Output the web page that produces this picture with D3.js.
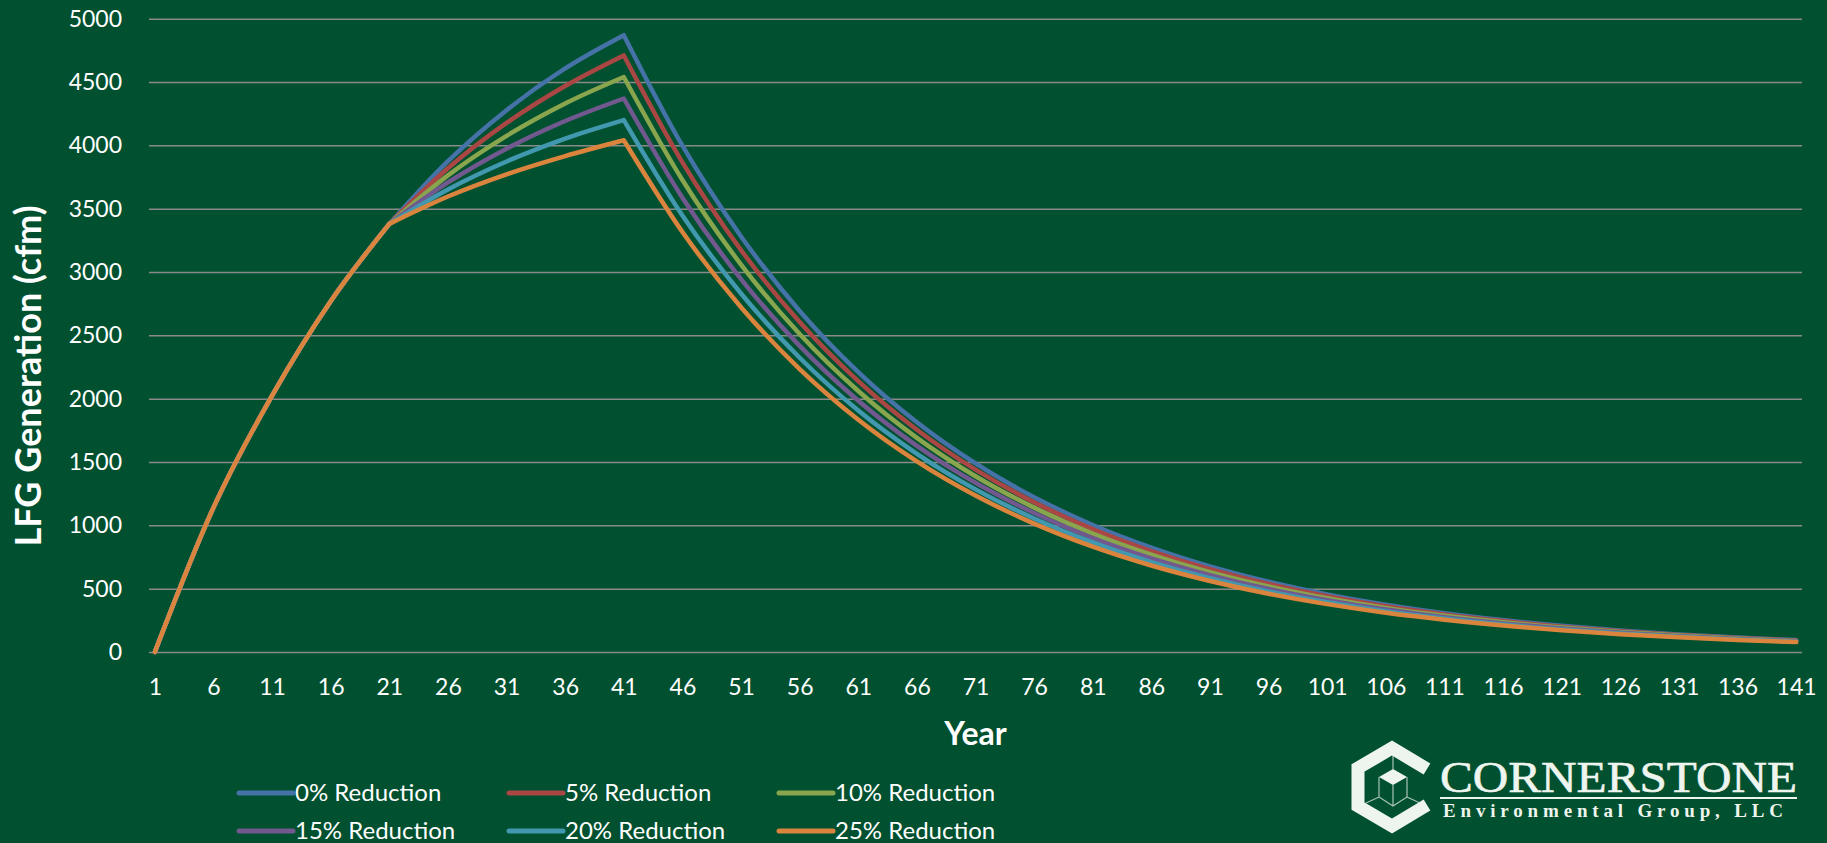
<!DOCTYPE html>
<html>
<head>
<meta charset="utf-8">
<script src="https://cdn.jsdelivr.net/npm/d3@7"></script>
<style>
    html, body { margin: 0; padding: 0; background: #01502f; }
    svg { display: block; }
    text { font-family: Lato, 'Open Sans', sans-serif; fill: #ffffff; }
</style>
</head>
<body>
<div id="chart"></div>
<script>
// series
const seriesNames = ['0% Reduction', '5% Reduction', '10% Reduction', '15% Reduction', '20% Reduction', '25% Reduction'];
const seriesColors = ['#4572a7', '#aa4643', '#89a54e', '#71588f', '#4198af', '#db843d'];

// years 1-21 are the same for every scenario
const rampYears = [1, 6, 11, 16, 21];
const rampValues = [0, 1140, 2025, 2770, 3380];

// years 21-41, one row per scenario
const riseYears = [21, 26, 31, 36, 41];
const riseValues = [
    [3380, 3875, 4278, 4608, 4870],
    [3380, 3819, 4177, 4469, 4710],
    [3380, 3763, 4075, 4331, 4540],
    [3380, 3707, 3974, 4192, 4370],
    [3380, 3652, 3873, 4054, 4200],
    [3380, 3596, 3771, 3915, 4040]
];

// years 41-141 after closure
const decayYears = [41, 46, 51, 56, 61, 66, 71, 76, 81, 86, 91, 96, 101, 106, 111, 116, 121, 126, 131, 136, 141];
const decayValues = [
    [4870, 3997, 3281, 2693, 2210, 1814, 1489, 1222, 1003, 824, 676, 555, 455, 374, 307, 252, 207, 170, 139, 114, 94],
    [4710, 3866, 3173, 2605, 2138, 1755, 1440, 1182, 970, 796, 654, 537, 440, 361, 297, 244, 200, 164, 135, 111, 91],
    [4540, 3726, 3059, 2511, 2061, 1691, 1388, 1140, 935, 768, 630, 517, 424, 348, 286, 235, 193, 158, 130, 107, 87],
    [4370, 3587, 2944, 2417, 1984, 1628, 1336, 1097, 900, 739, 607, 498, 409, 335, 275, 226, 185, 152, 125, 103, 84],
    [4200, 3447, 2830, 2323, 1906, 1565, 1284, 1054, 865, 710, 583, 478, 393, 322, 265, 217, 178, 146, 120, 99, 81],
    [4040, 3316, 2722, 2234, 1834, 1505, 1235, 1014, 832, 683, 561, 460, 378, 310, 255, 209, 171, 141, 116, 95, 78]
];

const xTicks = [1, 6, 11, 16, 21, 26, 31, 36, 41, 46, 51, 56, 61, 66, 71, 76, 81, 86, 91, 96, 101, 106, 111, 116, 121, 126, 131, 136, 141];
const yTicks = [0, 500, 1000, 1500, 2000, 2500, 3000, 3500, 4000, 4500, 5000];

const width = 1827;
const height = 843;
const plotLeft = 149;
const plotRight = 1802;
const plotTop = 18.7;
const plotBottom = 652;

const svg = d3.select('#chart')
    .append('svg')
    .attr('width', width)
    .attr('height', height);

svg.append('rect')
    .attr('width', width)
    .attr('height', height)
    .attr('fill', '#01502f');

const x = d3.scaleLinear()
    .domain([0.5, 141.5])
    .range([plotLeft, plotRight]);

const y = d3.scaleLinear()
    .domain([0, 5000])
    .range([plotBottom, plotTop]);

// gridlines
const grid = svg.append('g')
    .attr('transform', `translate(${plotLeft},0)`)
    .call(d3.axisLeft(y).tickValues(yTicks).tickSize(-(plotRight - plotLeft)).tickFormat(''));
grid.select('.domain').remove();
grid.selectAll('line')
    .attr('stroke', '#8a8a8a')
    .attr('stroke-width', 1.5);

// y labels
const yAxis = svg.append('g')
    .attr('transform', `translate(${plotLeft},0)`)
    .call(d3.axisLeft(y).tickValues(yTicks).tickSize(0).tickPadding(27).tickFormat(d3.format('d')));
yAxis.select('.domain').remove();
yAxis.selectAll('text').style('font-size', '23px');

// x labels
const xAxis = svg.append('g')
    .attr('transform', `translate(0,${plotBottom})`)
    .call(d3.axisBottom(x).tickValues(xTicks).tickSize(0).tickPadding(27));
xAxis.select('.domain').remove();
xAxis.selectAll('text').style('font-size', '23px');

// axis titles
svg.append('text')
    .attr('x', (plotLeft + plotRight) / 2)
    .attr('y', 745)
    .attr('text-anchor', 'middle')
    .style('font-size', '32px')
    .style('font-weight', 'bold')
    .text('Year');

svg.append('text')
    .attr('transform', 'translate(41,376) rotate(-90)')
    .attr('text-anchor', 'middle')
    .style('font-size', '36px')
    .style('font-weight', 'bold')
    .text('LFG Generation (cfm)');

// lines
const line = d3.line()
    .x(d => x(d.year))
    .y(d => y(d.value))
    .curve(d3.curveMonotoneX);

function segment(years, values) {
    return years.map((year, i) => ({ year: year, value: values[i] }));
}

// join the three pieces into one path so the corners at 21 and 41 stay sharp
function seriesPath(i) {
    const parts = [
        line(segment(rampYears, rampValues)),
        line(segment(riseYears, riseValues[i])),
        line(segment(decayYears, decayValues[i]))
    ];
    return parts[0] + parts.slice(1).map(p => p.replace(/^M[^C]*/, '')).join('');
}

svg.append('g')
    .selectAll('path')
    .data(seriesNames)
    .join('path')
    .attr('d', (d, i) => seriesPath(i))
    .attr('fill', 'none')
    .attr('stroke', (d, i) => seriesColors[i])
    .attr('stroke-width', 4.5)
    .attr('stroke-linejoin', 'round')
    .attr('stroke-linecap', 'round');

// legend
const legend = svg.append('g')
    .selectAll('g')
    .data(seriesNames)
    .join('g')
    .attr('transform', (d, i) => `translate(${239 + (i % 3) * 270},${i < 3 ? 793 : 831})`);

legend.append('line')
    .attr('x1', 0)
    .attr('x2', 54)
    .attr('stroke', (d, i) => seriesColors[i])
    .attr('stroke-width', 5)
    .attr('stroke-linecap', 'round');

legend.append('text')
    .attr('x', 56)
    .attr('dy', '0.35em')
    .style('font-size', '24px')
    .text(d => d);

// logo
const logoColor = '#eef4ee';
const logo = svg.append('g');

logo.append('path')
    .attr('d', 'M1427,769 L1392,748 L1358,768 L1358,806 L1392,826 L1427,805')
    .attr('fill', 'none')
    .attr('stroke', logoColor)
    .attr('stroke-width', 13)
    .attr('stroke-linejoin', 'miter');

logo.append('path')
    .attr('d', 'M1393,769 L1407,777 L1393,785 L1379,777 Z')
    .attr('fill', logoColor);

logo.append('path')
    .attr('d', 'M1379,777 V797 L1393,806 L1407,797 V777 M1393,785 V806 M1393,769 V755 M1379,797 L1366,803 M1407,797 L1420,803')
    .attr('fill', 'none')
    .attr('stroke', logoColor)
    .attr('stroke-opacity', 0.7)
    .attr('stroke-width', 1.2);

logo.append('text')
    .attr('x', 1440)
    .attr('y', 792)
    .attr('textLength', 357)
    .attr('lengthAdjust', 'spacingAndGlyphs')
    .style('font-family', "'Liberation Serif', 'DejaVu Serif', serif")
    .style('font-size', '45px')
    .style('fill', logoColor)
    .style('stroke', logoColor)
    .style('stroke-width', 0.6)
    .text('CORNERSTONE');

logo.append('rect')
    .attr('x', 1440)
    .attr('y', 797)
    .attr('width', 357)
    .attr('height', 2)
    .attr('fill', logoColor);

logo.append('text')
    .attr('x', 1443)
    .attr('y', 817)
    .attr('textLength', 340)
    .attr('lengthAdjust', 'spacing')
    .style('font-family', "'Liberation Serif', 'DejaVu Serif', serif")
    .style('font-size', '19px')
    .style('font-weight', 'bold')
    .style('fill', logoColor)
    .text('Environmental Group, LLC');
</script>
</body>
</html>
